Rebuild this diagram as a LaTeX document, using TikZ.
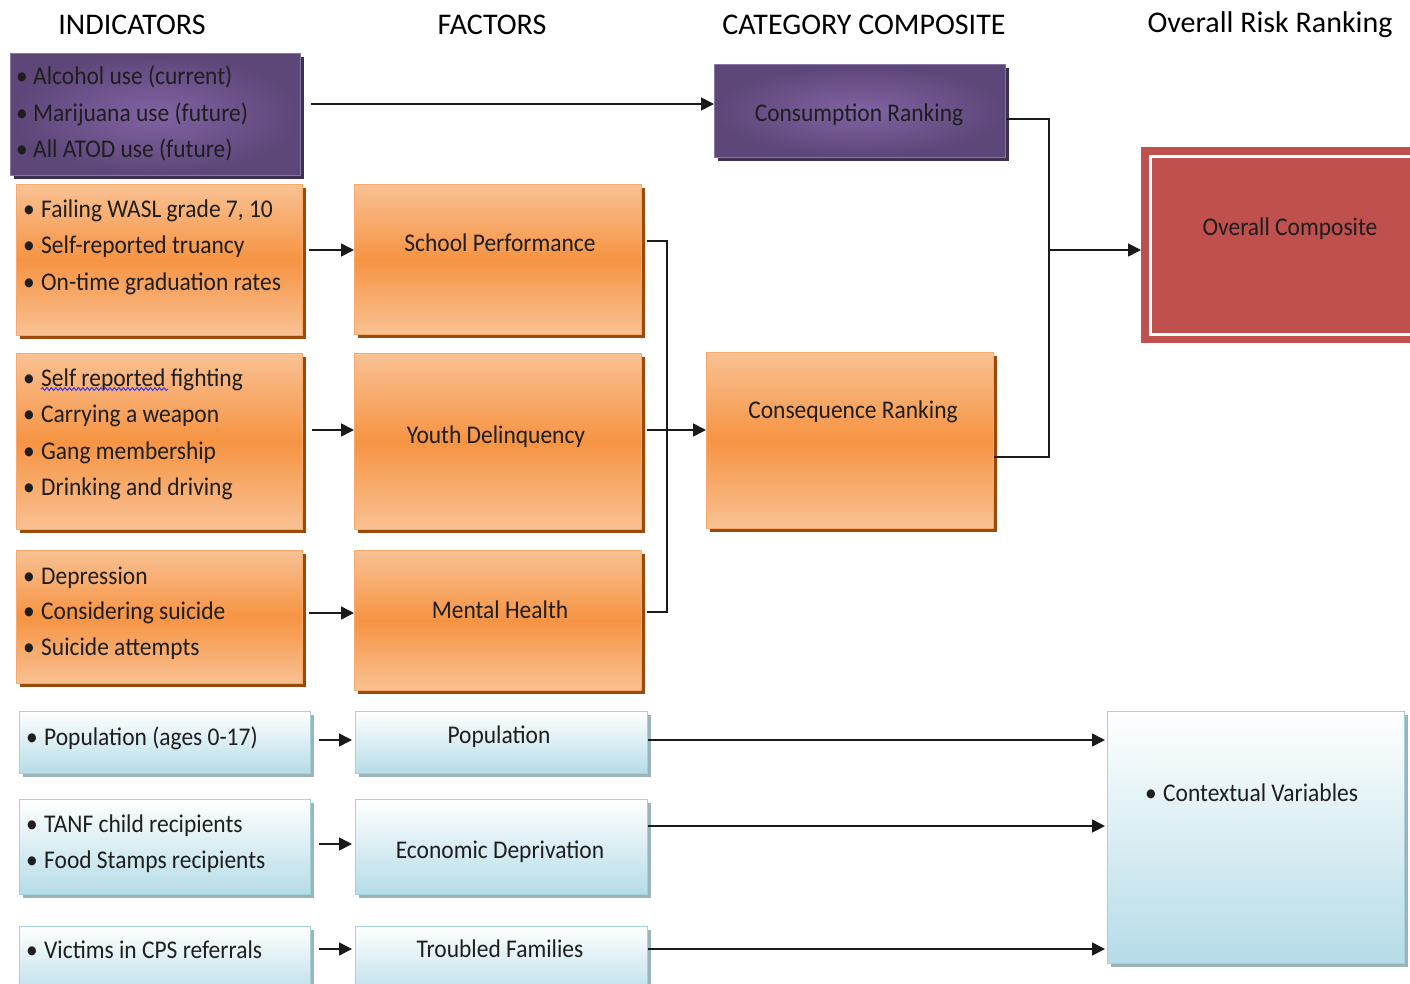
\documentclass[tikz,border=0pt]{standalone}
\usepackage{fontspec}
\setmainfont{Carlito}
\newfontfamily\bodyfont[FakeStretch=0.92]{Carlito}
\usetikzlibrary{arrows.meta,shadows,decorations.pathmorphing}

\definecolor{txtcol}{HTML}{1E1E1E}
\definecolor{linecol}{HTML}{1A1A1A}
\definecolor{purpdark}{HTML}{5D4678}
\definecolor{purplight}{HTML}{8163A3}
\definecolor{purpedge}{HTML}{8A76A6}
\definecolor{purpshadow}{HTML}{3E3050}
\definecolor{orlight}{HTML}{F9C193}
\definecolor{ormid}{HTML}{F69443}
\definecolor{oredge}{HTML}{F7A86A}
\definecolor{orshadow}{HTML}{9C4A0C}
\definecolor{bltop}{HTML}{FFFFFF}
\definecolor{blbottom}{HTML}{B5DCE7}
\definecolor{bledge}{HTML}{A3D2DF}
\definecolor{blshadow}{HTML}{9DB3BA}
\definecolor{redfill}{HTML}{C0504D}
\definecolor{spellblue}{HTML}{3A3AE0}

\begin{document}
\begin{tikzpicture}[x=1pt,y=-1pt,
  box/.style={rectangle, inner sep=0pt, anchor=north west, line width=0.8pt},
  purplebox/.style={box, draw=purpedge, inner color=purplight, outer color=purpdark,
    general shadow={fill=purpshadow, shadow xshift=4pt, shadow yshift=-4pt}},
  orangebox/.style={box, draw=oredge, top color=orlight, bottom color=orlight, middle color=ormid,
    general shadow={fill=orshadow, shadow xshift=4pt, shadow yshift=-4pt}},
  bluebox/.style={box, draw=bledge, top color=bltop, bottom color=blbottom,
    general shadow={fill=blshadow, shadow xshift=4pt, shadow yshift=-4pt}},
  redbox/.style={box, fill=redfill, draw=none},
  head/.style={font=\fontsize{30}{34}\selectfont, text=black, inner sep=0pt},
  label/.style={font=\bodyfont\fontsize{25.5}{30}\selectfont, text=txtcol, inner sep=0pt,
    text height=16.4pt, text depth=0pt},
  item/.style={label, anchor=west},
  arr/.style={draw=linecol, line width=1.6pt, -{Triangle[length=13pt,width=13pt]}},
  link/.style={draw=linecol, line width=1.6pt}
]
\useasboundingbox (0,0) rectangle (1410,983);
\clip (0,0) rectangle (1410,983);

% column headings
\node[head] (hInd) at (132,25) {INDICATORS};
\node[head] (hFac) at (492,25) {FACTORS};
\node[head] (hCat) at (864,25) {CATEGORY COMPOSITE};
\node[head] (hOv)  at (1270,25) {Overall Risk Ranking};

% consumption row
\node[purplebox, minimum width=290pt, minimum height=122pt] (ind1) at (10,53) {};
\node[purplebox, minimum width=291pt, minimum height=93pt] (cons) at (714,64) {};
\node[label] (consT) at (859,113) {Consumption Ranking};
\node[item] (i1a) at (16,76)  {\makebox[17pt][l]{•}Alcohol use (current)};
\node[item] (i1b) at (16,113) {\makebox[17pt][l]{•}Marijuana use (future)};
\node[item] (i1c) at (16,149) {\makebox[17pt][l]{•}All ATOD use (future)};

% consequence rows
\node[orangebox, minimum width=286pt, minimum height=151pt] (ind2) at (16,184) {};
\node[orangebox, minimum width=287pt, minimum height=150pt] (school) at (354,184) {};
\node[orangebox, minimum width=286pt, minimum height=176pt] (ind3) at (16,353) {};
\node[orangebox, minimum width=287pt, minimum height=176pt] (youth) at (354,353) {};
\node[orangebox, minimum width=286pt, minimum height=133pt] (ind4) at (16,550) {};
\node[orangebox, minimum width=287pt, minimum height=140pt] (mental) at (354,550) {};
\node[orangebox, minimum width=287pt, minimum height=176pt] (conseq) at (706,352) {};

\node[label] (schoolT) at (500,243) {School Performance};
\node[label] (youthT)  at (496,435) {Youth Delinquency};
\node[label] (mentalT) at (500,610) {Mental Health};
\node[label] (conseqT) at (853,410) {Consequence Ranking};

\node[item] (i2a) at (23,209) {\makebox[18pt][l]{•}Failing WASL grade 7, 10};
\node[item] (i2b) at (23,245) {\makebox[18pt][l]{•}Self-reported truancy};
\node[item] (i2c) at (23,282) {\makebox[18pt][l]{•}On-time graduation rates};

\node[item] (i3a) at (23,378) {\makebox[18pt][l]{•}Self reported fighting};
\node[item] (i3b) at (23,414) {\makebox[18pt][l]{•}Carrying a weapon};
\node[item] (i3c) at (23,451) {\makebox[18pt][l]{•}Gang membership};
\node[item] (i3d) at (23,487) {\makebox[18pt][l]{•}Drinking and driving};
% spelling-check squiggle under the first words
\draw[spellblue, line width=1pt, decorate,
  decoration={snake, amplitude=1.4pt, segment length=4.5pt}] (41,389) -- (168,389);

\node[item] (i4a) at (23,576) {\makebox[18pt][l]{•}Depression};
\node[item] (i4b) at (23,611) {\makebox[18pt][l]{•}Considering suicide};
\node[item] (i4c) at (23,647) {\makebox[18pt][l]{•}Suicide attempts};

% overall composite
\node[redbox, minimum width=290pt, minimum height=196pt] (overall) at (1141,147) {};
\draw[white, line width=3pt] ([shift={(9.5,9.5)}]overall.north west) rectangle ([shift={(-9.5,-9.5)}]overall.south east);
\node[label] (overallT) at (1290,227) {Overall Composite};

% contextual rows
\node[bluebox, minimum width=291pt, minimum height=62pt] (pop1) at (19,711) {};
\node[bluebox, minimum width=292pt, minimum height=62pt] (pop2) at (355,711) {};
\node[bluebox, minimum width=291pt, minimum height=95pt] (tanf) at (19,799) {};
\node[bluebox, minimum width=292pt, minimum height=95pt] (econ) at (355,799) {};
\node[bluebox, minimum width=291pt, minimum height=75pt] (vict) at (19,926) {};
\node[bluebox, minimum width=292pt, minimum height=75pt] (troub) at (355,926) {};
\node[bluebox, minimum width=297pt, minimum height=252pt] (ctx) at (1107,711) {};

\node[item] (p1a) at (26,737) {\makebox[18pt][l]{•}Population (ages 0-17)};
\node[item] (t1a) at (26,824) {\makebox[18pt][l]{•}TANF child recipients};
\node[item] (t1b) at (26,860) {\makebox[18pt][l]{•}Food Stamps recipients};
\node[item] (v1a) at (26,950) {\makebox[18pt][l]{•}Victims in CPS referrals};
\node[item] (c1a) at (1145,793) {\makebox[18pt][l]{•}Contextual Variables};

\node[label] (pop2T)   at (499,735) {Population};
\node[label] (econT)   at (500,850) {Economic Deprivation};
\node[label] (troubT)  at (500,949) {Troubled Families};

% indicator -> factor connectors
\draw[arr] ([xshift=10pt]ind1.east |- 0,104) -- (cons.west |- 0,104);
\draw[arr] ([xshift=6pt]ind2.east |- 0,250) -- (school.west |- 0,250);
\draw[arr] ([xshift=9pt]ind3.east |- 0,430) -- (youth.west |- 0,430);
\draw[arr] ([xshift=6pt]ind4.east |- 0,613) -- (mental.west |- 0,613);

% factors -> consequence ranking
\coordinate (jx) at (667,430);
\draw[link] ([xshift=5pt]school.east |- 0,241) -- (jx |- 0,241) -- (jx |- 0,612) -- ([xshift=5pt]mental.east |- 0,612);
\draw[arr] ([xshift=5pt]youth.east |- 0,430) -- (conseq.west |- 0,430);

% category composites -> overall composite
\coordinate (kx) at (1049,250);
\draw[link] (cons.east |- 0,119) -- (kx |- 0,119) -- (kx |- 0,457) -- (conseq.east |- 0,457);
\draw[arr] (kx) -- (overall.west |- kx);

% contextual connectors
\draw[arr] ([xshift=8pt]pop1.east |- 0,740) -- ([xshift=-3pt]pop2.west |- 0,740);
\draw[arr] ([xshift=8pt]tanf.east |- 0,844) -- ([xshift=-3pt]econ.west |- 0,844);
\draw[arr] ([xshift=8pt]vict.east |- 0,949) -- ([xshift=-3pt]troub.west |- 0,949);
\draw[arr] (pop2.east |- 0,740) -- ([xshift=-2pt]ctx.west |- 0,740);
\draw[arr] (econ.east |- 0,826) -- ([xshift=-2pt]ctx.west |- 0,826);
\draw[arr] (troub.east |- 0,949) -- ([xshift=-2pt]ctx.west |- 0,949);
\end{tikzpicture}
\end{document}
